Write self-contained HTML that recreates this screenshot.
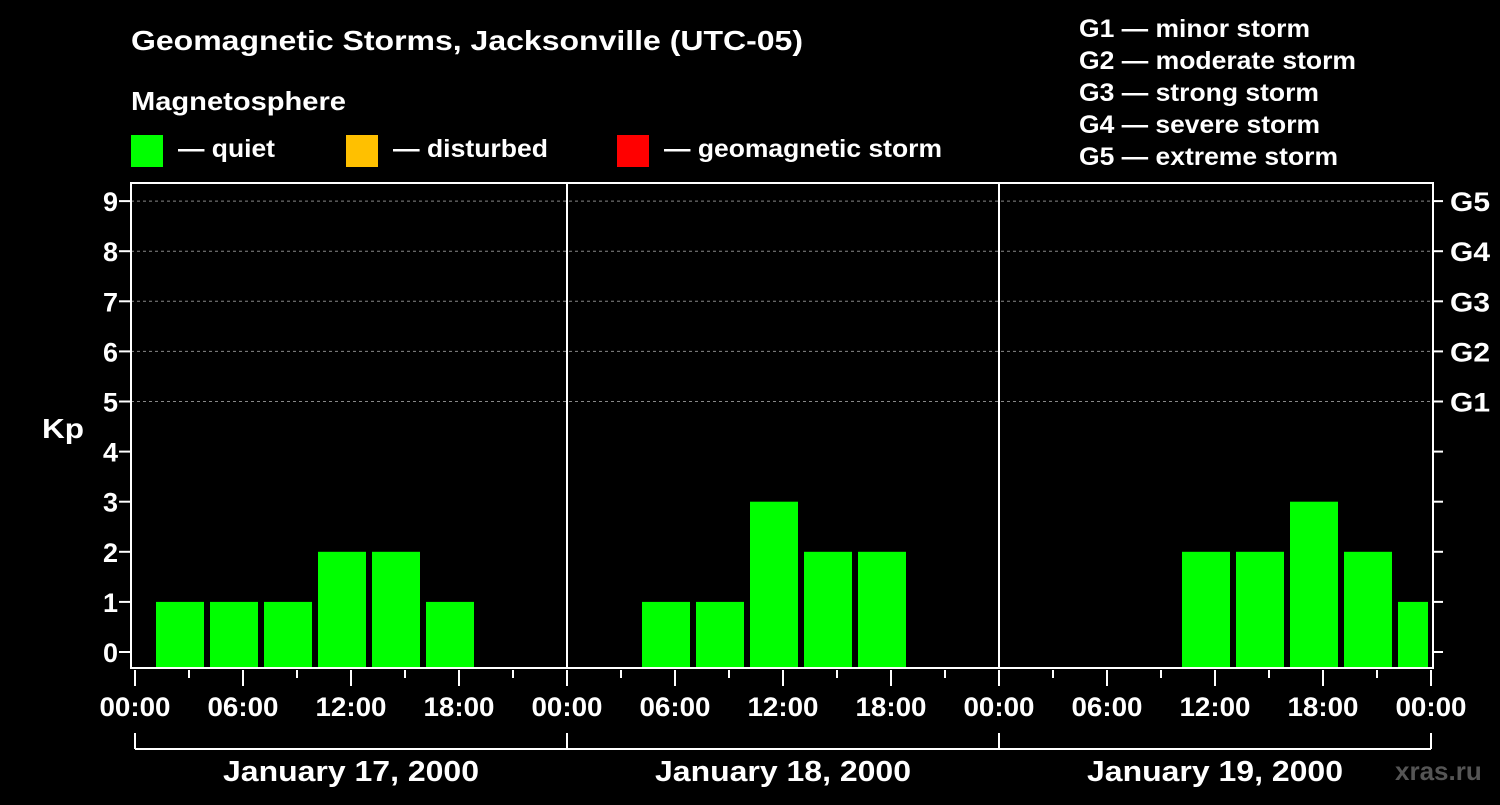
<!DOCTYPE html>
<html><head><meta charset="utf-8"><style>
body{margin:0;background:#000;width:1500px;height:800px;overflow:hidden}
text{font-family:"Liberation Sans",sans-serif;font-weight:bold;fill:#fff}
</style></head><body>
<svg width="1500" height="800">
<text x="131" y="50" font-size="28" textLength="672" lengthAdjust="spacingAndGlyphs">Geomagnetic Storms, Jacksonville (UTC-05)</text>
<text x="131" y="110" font-size="26" textLength="215" lengthAdjust="spacingAndGlyphs">Magnetosphere</text>
<rect x="131" y="135" width="32" height="32" fill="#00ff00"/>
<text x="178" y="157" font-size="25" textLength="97" lengthAdjust="spacingAndGlyphs">— quiet</text>
<rect x="346" y="135" width="32" height="32" fill="#ffc000"/>
<text x="393" y="157" font-size="25" textLength="155" lengthAdjust="spacingAndGlyphs">— disturbed</text>
<rect x="617" y="135" width="32" height="32" fill="#ff0000"/>
<text x="664" y="157" font-size="25" textLength="278" lengthAdjust="spacingAndGlyphs">— geomagnetic storm</text>
<g font-size="25">
<text x="1079" y="37" textLength="231" lengthAdjust="spacingAndGlyphs">G1 — minor storm</text>
<text x="1079" y="69" textLength="277" lengthAdjust="spacingAndGlyphs">G2 — moderate storm</text>
<text x="1079" y="101" textLength="240" lengthAdjust="spacingAndGlyphs">G3 — strong storm</text>
<text x="1079" y="133" textLength="241" lengthAdjust="spacingAndGlyphs">G4 — severe storm</text>
<text x="1079" y="165" textLength="259" lengthAdjust="spacingAndGlyphs">G5 — extreme storm</text>
</g>
<text x="42" y="438" font-size="28" textLength="42" lengthAdjust="spacingAndGlyphs">Kp</text>
<g id="plot"></g>
<text x="1395" y="780" font-size="26" style="fill:#555">xras.ru</text>
</svg>
<script>
const days=["January 17, 2000","January 18, 2000","January 19, 2000"];
const kpValues=[1,1,1,2,2,1,null,null, null,1,1,3,2,2,null,null, null,null,null,2,2,3,2,1];
const yTicks=[0,1,2,3,4,5,6,7,8,9];
const gLabels=["G1","G2","G3","G4","G5"];
const timeLabels=["00:00","06:00","12:00","18:00"];
const NS="http://www.w3.org/2000/svg";
const g=document.getElementById('plot');
const X0=135,PXH=18,L=131,R=1433,T=183,B=668;
const x=h=>X0+h*PXH;
const y=v=>652-v*50.1;
function el(t,a){const e=document.createElementNS(NS,t);for(const k in a)e.setAttribute(k,a[k]);g.appendChild(e);return e;}
yTicks.forEach(v=>{
 if(v>=5){const l=el('line',{x1:L,x2:R,y1:y(v),y2:y(v),stroke:'#888','stroke-dasharray':'3,3'});
 
 }
 el('line',{x1:L-12,x2:L,y1:y(v),y2:y(v),stroke:'#fff','stroke-width':2});
 el('line',{x1:R,x2:R+10,y1:y(v),y2:y(v),stroke:'#fff','stroke-width':2});
 const t=el('text',{x:118,y:y(v)+10,'text-anchor':'end','font-size':27});t.textContent=v;
 
 
});
gLabels.forEach((s,i)=>{const t=el('text',{x:1450,y:y(i+5)+10,'font-size':27,textLength:40,lengthAdjust:'spacingAndGlyphs'});t.textContent=s;
 
 });
kpValues.forEach((v,k)=>{
 if(v===null)return;
 const x1=x(k*3)+21,x2=Math.min(x1+48,1428);
 const r=el('rect',{x:x1,y:y(v),width:x2-x1,height:B-y(v),fill:v>=5?'#ff0000':(v>=4?'#ffc000':'#00ff00')});
 
 
});
el('rect',{x:L,y:T,width:R-L,height:B-T,fill:'none',stroke:'#fff','stroke-width':2});
for(let d=1;d<days.length;d++)el('line',{x1:x(d*24),x2:x(d*24),y1:T,y2:B,stroke:'#fff','stroke-width':2});
for(let h=0;h<=72;h+=3){
 const major=h%6===0;
 el('line',{x1:x(h),x2:x(h),y1:B+2,y2:B+(major?18:10),stroke:'#fff','stroke-width':2});
 if(major){const t=el('text',{x:x(h),y:716,'text-anchor':'middle','font-size':27,textLength:71,lengthAdjust:'spacingAndGlyphs'});t.textContent=timeLabels[(h/6)%4];
 
 }
}
el('line',{x1:x(0),x2:x(72),y1:749,y2:749,stroke:'#fff','stroke-width':2});
for(let d=0;d<=days.length;d++)el('line',{x1:x(d*24),x2:x(d*24),y1:733,y2:749,stroke:'#fff','stroke-width':2});
days.forEach((s,d)=>{const t=el('text',{x:x(d*24+12),y:781,'text-anchor':'middle','font-size':29,textLength:256,lengthAdjust:'spacingAndGlyphs'});t.textContent=s;
 
 });
</script>
</body></html>
